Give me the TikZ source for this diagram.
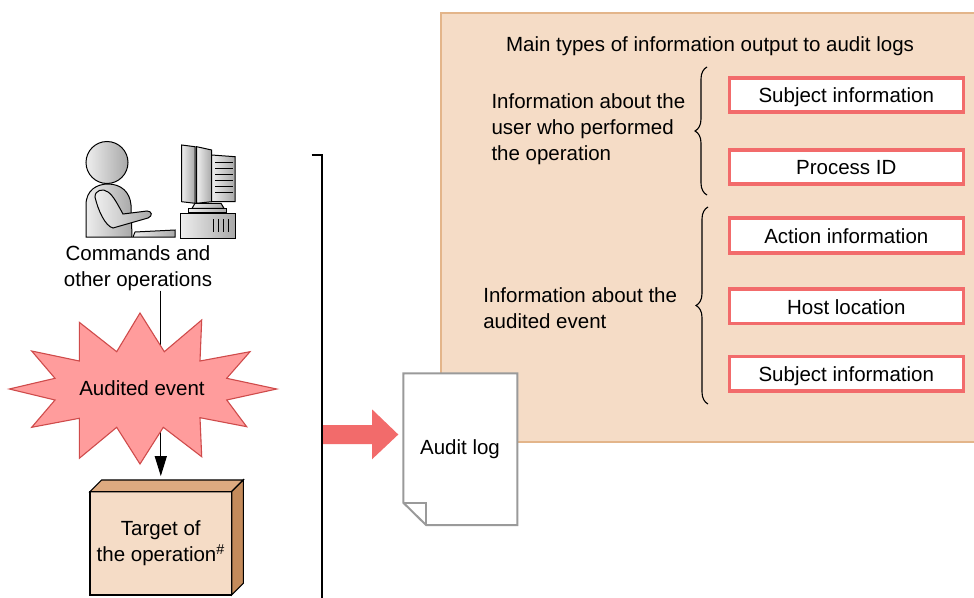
\documentclass[tikz,border=0pt]{standalone}
\usepackage{fontspec}
\setmainfont{Liberation Sans}
\usetikzlibrary{decorations.pathreplacing,arrows.meta,calc}
\definecolor{panelfill}{HTML}{F5DCC6}
\definecolor{panelline}{HTML}{E3B58A}
\definecolor{itemred}{HTML}{F26B6B}
\definecolor{burstfill}{HTML}{FF9C9C}
\definecolor{burstline}{HTML}{CF4B4B}
\definecolor{boxtop}{HTML}{DDAA80}
\definecolor{boxside}{HTML}{C48B5B}
\definecolor{docline}{HTML}{9A9A9A}
\definecolor{iconlight}{HTML}{EEEEEE}
\definecolor{icondark}{HTML}{A8A8A8}

\begin{document}
\begin{tikzpicture}[x=1pt,y=-1pt,
  every node/.style={font=\fontsize{20.5}{26}\selectfont, inner sep=0pt, outer sep=0pt},
  item/.style={draw=itemred, line width=3.6pt, fill=white, minimum width=234pt,
    minimum height=34.5pt, text height=15.4pt, text depth=0pt},
  lbl/.style={align=left, anchor=north west},
  grp/.style={decorate, decoration={brace, amplitude=12pt}, line width=1.1pt},
  icon/.style={draw=black, line width=1pt, left color=iconlight, right color=icondark},
]
\useasboundingbox (0,0) rectangle (974,597);

% ---------- information panel ----------
\fill[panelfill] (441,13) rectangle (980,441.7);
\draw[panelline, line width=1.6pt] (980,13) -- (441,13) -- (441,441.7) -- (980,441.7);

\node[anchor=base] (title) at (710,51.7) {Main types of information output to audit logs};

\node[lbl] (user) at (491.5,93.8) {Information about the\\user who performed\\the operation};
\node[lbl] (event) at (483.3,287.2) {Information about the\\audited event};

\draw[grp] (707,195) -- (707,67);
\draw[grp] (708,404) -- (708,207);

\node[item] (subj1) at (846.3,95)    {Subject information};
\node[item] (pid)   at (846.3,167)   {Process ID};
\node[item] (act)   at (846.3,235.5) {Action information};
\node[item] (host)  at (846.3,306.3) {Host location};
\node[item] (subj2) at (846.3,373.7) {Subject information};

% ---------- user at a workstation ----------
% head
\shade[icon] (107,162.5) circle[radius=21];
% body
\shade[icon] (86,237) -- (86,205) .. controls (86,190) and (97,184) .. (108,184)
  .. controls (121,184) and (130,192) .. (131,205) -- (132,237) -- cycle;
% arm
\shade[icon] (95,197) .. controls (98,210) and (105,226) .. (113,228) -- (148,218)
  .. controls (153,216) and (152,211) .. (147,211) -- (123,214)
  .. controls (118,205) and (113,195) .. (108,192) .. controls (103,188) and (95,190) .. (95,197) -- cycle;
% keyboard
\shade[icon] (135,232) -- (175,230) -- (175,237) -- (133,237) -- cycle;
% monitor
\shade[icon] (181.7,145) -- (195,146.7) -- (195,203.3) -- (181.7,201.7) -- cycle;
\shade[icon] (196.7,146.7) -- (211.7,150) -- (211.7,201.7) -- (196.7,203.3) -- cycle;
\shade[icon] (211.7,155) -- (235,156.7) -- (235,201.7) -- (211.7,201.7) -- cycle;
\foreach \yy in {162,168,174,180,186,192}
  \draw[line width=0.8pt] (215,\yy) -- (233,\yy);
\shade[icon] (195,203.3) -- (221,203.3) -- (224,208.3) -- (192,208.3) -- cycle;
\shade[icon] (188.3,208.3) rectangle (226.7,212.7);
% system unit
\shade[icon] (180,213.3) rectangle (235,238.3);
\foreach \xx in {213.3,218.3,223.3,228.3}
  \draw[line width=0.9pt] (\xx,219) -- (\xx,232);

\node[align=center, anchor=north] (cmd) at (138,245.5) {Commands and\\other operations};

% ---------- target of the operation ----------
\node[draw, line width=1.2pt, fill=panelfill, minimum width=141.7pt, minimum height=103.3pt,
  align=center] (target) at (160.8,543.3) {Target of\\the operation\textsuperscript{\#}};
\filldraw[fill=boxtop, line width=1.2pt] (target.north west) -- ++(11.7,-11.7)
  -- ($(target.north east)+(11.7,-11.7)$) -- (target.north east) -- cycle;
\filldraw[fill=boxside, line width=1.2pt] (target.north east) -- ++(11.7,-11.7)
  -- ($(target.south east)+(11.7,-11.7)$) -- (target.south east) -- cycle;

% flow from the operation to its target
\draw[line width=1.2pt, -{Triangle[length=20pt,width=12pt]}]
  (cmd.south -| target.north) -- ($(target.north)+(0,-15.5)$);

% ---------- audited event burst ----------
\filldraw[fill=burstfill, draw=burstline, line width=1.1pt]
  (140,313) -- (164.3,351.7) -- (201.7,320) -- (200,361) -- (250,351.7) -- (226.7,378.3)
  -- (276.7,389) -- (226.7,400) -- (246.7,426.7) -- (200,417.7) -- (201.7,456.7)
  -- (163.3,427.3) -- (140,464) -- (116.7,427.3) -- (79.3,458.3) -- (79.3,418.3)
  -- (31.7,427.3) -- (55,400) -- (9.3,389) -- (55,378.3) -- (31.7,351) -- (79.3,361)
  -- (79.3,322.3) -- (116.7,351.7) -- cycle;
\node (burst) at (142,388) {Audited event};

% ---------- output to the audit log ----------
\fill[itemred] (322,425) -- (372,425) -- (372,409.3) -- (398.3,434.5) -- (372,459.3)
  -- (372,444) -- (322,444) -- cycle;
\draw[line width=2pt] (311.7,155) -- (322,155) -- (322,600);

\draw[docline, line width=2pt, fill=white] (403.3,373.3) -- (517.3,373.3) -- (517.3,525)
  -- (426,525) -- (403.3,502.7) -- cycle;
\draw[docline, line width=2pt] (403.3,502.7) -- (426,502.7) -- (426,525);
\node (log) at (460,449) {Audit log};
\end{tikzpicture}
\end{document}
